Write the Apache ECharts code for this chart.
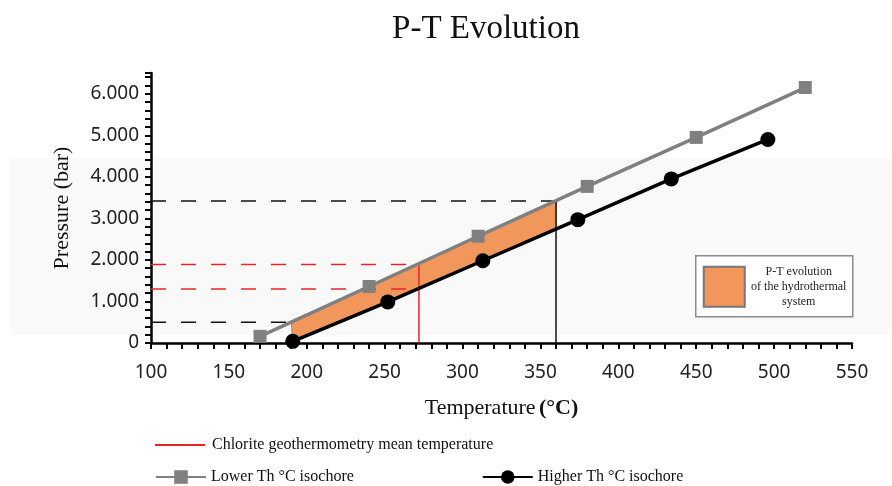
<!DOCTYPE html>
<html>
<head>
<meta charset="utf-8">
<title>P-T Evolution</title>
<script src="https://cdn.jsdelivr.net/npm/echarts@6/dist/echarts.min.js"></script>
<style>
  html, body { margin: 0; padding: 0; background: #fff; }
  #chart { width: 892px; height: 486px; }
</style>
</head>
<body>
<div id="chart"></div>
<script>
// isochores (T in °C, P in bar)
const lowerT = [170, 240, 310, 380, 450, 520];
const lowerP = [160, 1360, 2570, 3770, 4950, 6150];
const higherT = [191, 252, 313, 374, 434, 496];
const higherP = [40, 990, 1980, 2970, 3950, 4900];

// shaded P-T field between the two isochores
const fieldT = [190, 240, 310, 360, 360, 313, 252, 191];
const fieldP = [500, 1360, 2570, 3430, 2740, 1980, 990, 40];

// chlorite geothermometry mean temperature and its pressures
const chloriteT = 272;
const chloriteP = [1300, 1890];

// black guides (start / end of the field)
const guideT = [190, 360];
const guideP = [500, 3420];

// axes
const xRange = [100, 550];
const yRange = [0, 6500];

const SERIF = 'Liberation Serif';
const RED = '#ec2424';
const ORANGE = '#f2975b';

const pair = (xs, ys) => xs.map((x, i) => [x, ys[i]]);

// horizontal dashed guide from the y axis to a temperature
const dashed = (p, tEnd, color) => ({
  type: 'line',
  data: [[xRange[0], p], [tEnd, p]],
  symbol: 'none',
  silent: true,
  z: 3,
  lineStyle: { color: color, width: 1.5, type: [15, 15] }
});

const chart = echarts.init(document.getElementById('chart'));

const option = {
  backgroundColor: '#fff',
  animation: false,
  title: {
    text: 'P-T Evolution',
    left: 481,
    top: 8,
    textAlign: 'center',
    textStyle: { fontFamily: SERIF, fontSize: 33, fontWeight: 'normal', color: '#111' }
  },
  grid: { left: 151, right: 40, top: 73, bottom: 143 },
  xAxis: {
    type: 'value',
    min: xRange[0],
    max: xRange[1],
    interval: 10,
    name: '{a|Temperature} {b|(°C)}',
    nameLocation: 'middle',
    nameGap: 54,
    nameTextStyle: {
      rich: {
        a: { fontFamily: SERIF, fontSize: 22, color: '#111' },
        b: { fontFamily: SERIF, fontSize: 22, fontWeight: 'bold', color: '#111' }
      }
    },
    axisLine: { lineStyle: { color: '#000', width: 2.5 } },
    axisTick: { length: 6, lineStyle: { color: '#000', width: 2 } },
    axisLabel: {
      margin: 20,
      fontFamily: 'Noto Sans',
      fontSize: 19,
      color: '#222',
      formatter: v => (v % 50 === 0 ? String(v) : '')
    },
    splitLine: { show: false }
  },
  yAxis: {
    type: 'value',
    min: yRange[0],
    max: yRange[1],
    interval: 200,
    name: 'Pressure (bar)',
    nameLocation: 'middle',
    nameGap: 78,
    nameTextStyle: { fontFamily: SERIF, fontSize: 22, color: '#111' },
    axisLine: { lineStyle: { color: '#000', width: 2.5 } },
    axisTick: { length: 6, lineStyle: { color: '#000', width: 2 } },
    axisLabel: {
      margin: 12,
      fontFamily: 'Noto Sans',
      fontSize: 19,
      color: '#222',
      formatter: v => (v % 1000 !== 0 ? '' : v === 0 ? '0' : (v / 1000).toFixed(3))
    },
    splitLine: { show: false }
  },
  legend: [
    {
      data: [{ name: 'Chlorite geothermometry mean temperature', icon: 'rect' }],
      left: 150,
      top: 432,
      itemWidth: 50,
      itemHeight: 2,
      textStyle: { fontFamily: SERIF, fontSize: 16, color: '#111', padding: [0, 0, 0, 2] }
    },
    {
      data: ['Lower Th °C isochore', 'Higher Th °C isochore'],
      left: 150,
      top: 464,
      itemWidth: 50,
      itemHeight: 17,
      itemGap: 128,
      textStyle: { fontFamily: SERIF, fontSize: 16, color: '#111' }
    }
  ],
  graphic: [
    {
      // faint band behind the plot
      type: 'rect',
      z: -10,
      silent: true,
      shape: { x: 11, y: 158, width: 881, height: 177 },
      style: { fill: '#f9f9f9' }
    },
    {
      type: 'group',
      left: 695,
      top: 255,
      z: 100,
      children: [
        {
          type: 'rect',
          shape: { x: 0, y: 0, width: 157, height: 61 },
          style: { fill: '#fff', stroke: '#8c8c8c', lineWidth: 1.5 }
        },
        {
          type: 'rect',
          shape: { x: 8, y: 11, width: 41, height: 40 },
          style: { fill: ORANGE, stroke: '#777', lineWidth: 2 }
        },
        {
          type: 'text',
          x: 103,
          y: 31,
          style: {
            text: 'P-T evolution\nof the hydrothermal\nsystem',
            align: 'center',
            verticalAlign: 'middle',
            fontFamily: SERIF,
            fontSize: 12,
            lineHeight: 15,
            fill: '#222'
          }
        }
      ]
    }
  ],
  series: [
    {
      type: 'custom',
      silent: true,
      z: 1,
      data: pair(fieldT, fieldP),
      encode: { x: 0, y: 1 },
      renderItem: (params, api) => {
        if (params.dataIndex !== 0) return null;
        const pts = fieldT.map((t, i) => api.coord([t, fieldP[i]]));
        return {
          type: 'polygon',
          shape: { points: pts },
          style: { fill: ORANGE, stroke: '#8a8a8a', lineWidth: 1 }
        };
      }
    },
    dashed(guideP[0], guideT[0], '#111'),
    dashed(guideP[1], guideT[1], '#111'),
    dashed(chloriteP[0], chloriteT, RED),
    dashed(chloriteP[1], chloriteT, RED),
    {
      type: 'line',
      silent: true,
      symbol: 'none',
      z: 3,
      data: [[guideT[1], 0], [guideT[1], guideP[1]]],
      lineStyle: { color: '#111', width: 1.5 }
    },
    {
      name: 'Chlorite geothermometry mean temperature',
      type: 'line',
      symbol: 'none',
      z: 3,
      data: [[chloriteT, 0], [chloriteT, chloriteP[1]]],
      itemStyle: { color: RED },
      lineStyle: { color: RED, width: 1.5 }
    },
    {
      name: 'Lower Th °C isochore',
      type: 'line',
      symbol: 'rect',
      symbolSize: 13,
      z: 5,
      data: pair(lowerT, lowerP),
      itemStyle: { color: '#808080' },
      lineStyle: { color: '#808080', width: 3.5 }
    },
    {
      name: 'Higher Th °C isochore',
      type: 'line',
      symbol: 'circle',
      symbolSize: 15,
      z: 5,
      data: pair(higherT, higherP),
      itemStyle: { color: '#000' },
      lineStyle: { color: '#000', width: 3.5 }
    }
  ]
};

chart.setOption(option);
window.addEventListener('resize', () => chart.resize());
</script>
</body>
</html>
